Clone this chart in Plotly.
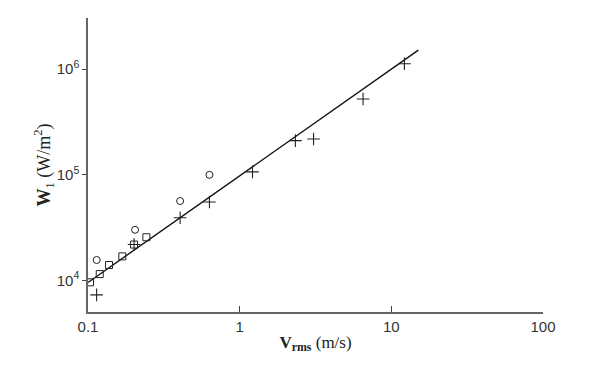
import plotly.graph_objects as go

# Data
sq_v = [0.1031, 0.1195, 0.1376, 0.1684, 0.2012, 0.2426]
sq_w = [9570, 11460, 13950, 16850, 21800, 25560]

circ_v = [0.1141, 0.2043, 0.405, 0.632]
circ_w = [15570, 30060, 56300, 99600]

plus_v = [0.114, 0.2012, 0.405, 0.632, 1.215, 2.33, 3.07, 6.51, 12.2]
plus_w = [7280, 21800, 39100, 55100, 106300, 209800, 217900, 520000, 1122000]

fit_v = [0.1, 15.07]
fit_w = [9530, 1510000]

x_ticks = [0.1, 1, 10, 100]
x_ticktext = ["0.1", "1", "10", "100"]
y_ticks = [1e4, 1e5, 1e6]
y_ticktext = ["10<sup>4</sup>", "10<sup>5</sup>", "10<sup>6</sup>"]

fig = go.Figure()
fig.add_trace(go.Scatter(x=fit_v, y=fit_w, mode="lines",
                         line=dict(color="#111", width=1.4), showlegend=False))
fig.add_trace(go.Scatter(x=sq_v, y=sq_w, mode="markers",
                         marker=dict(symbol="square-open", size=7, color="#222",
                                     line=dict(width=1)), showlegend=False))
fig.add_trace(go.Scatter(x=circ_v, y=circ_w, mode="markers",
                         marker=dict(symbol="circle-open", size=7, color="#222",
                                     line=dict(width=1)), showlegend=False))
fig.add_trace(go.Scatter(x=plus_v, y=plus_w, mode="markers",
                         marker=dict(symbol="cross-thin-open", size=9, color="#222",
                                     line=dict(width=1.1, color="#222")), showlegend=False))

# page body has an 8px default margin, so margins are offset to keep the plot area in place
fig.update_layout(
    width=607, height=370,
    margin=dict(l=80, r=72, t=10, b=66),
    paper_bgcolor="white", plot_bgcolor="white",
    font=dict(family="Liberation Sans, Arial, sans-serif", size=15, color="#333"),
)
fig.update_xaxes(
    type="log", range=[-1, 2.0], tickvals=x_ticks, ticktext=x_ticktext,
    showgrid=False, zeroline=False, showline=True, linecolor="#666", linewidth=1.5,
    ticks="inside", ticklen=6, tickcolor="#444", tickwidth=1,
    automargin=False,
    title=dict(text="<b>V</b><sub><b>rms</b></sub> (m/s)",
               font=dict(family="Liberation Serif, Times New Roman, serif", size=17, color="#222"),
               standoff=2),
)
fig.update_yaxes(
    type="log", range=[3.7, 6.483], tickvals=y_ticks, ticktext=y_ticktext,
    showgrid=False, zeroline=False, showline=True, linecolor="#666", linewidth=1.5,
    ticks="outside", ticklen=4, tickcolor="#444", tickwidth=1,
    automargin=False,
    title=dict(text="<b>W</b><sub>1</sub> (W/m<sup>2</sup>)",
               font=dict(family="Liberation Serif, Times New Roman, serif", size=18, color="#222"),
               standoff=0),
)

fig.write_html("out.html")
